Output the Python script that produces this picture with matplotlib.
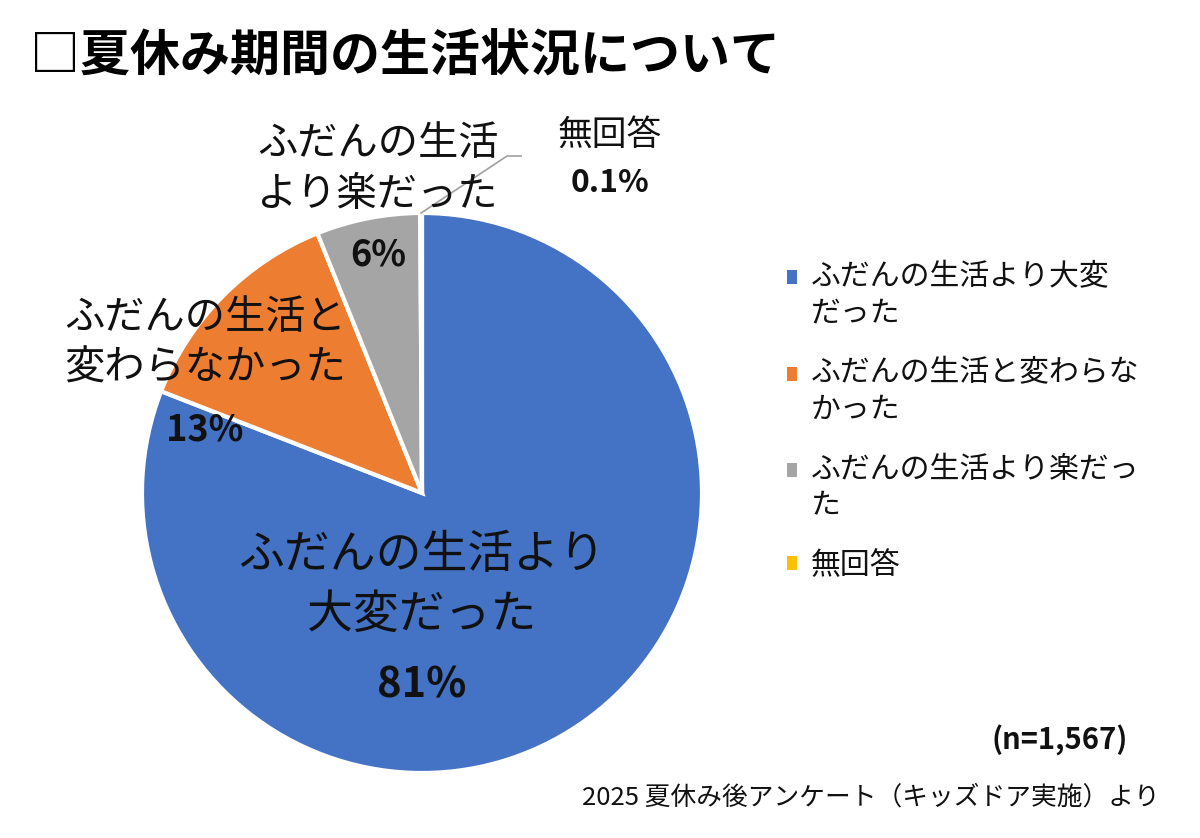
import numpy as np
import matplotlib
matplotlib.use("Agg")
import matplotlib.pyplot as plt
from matplotlib.patches import Rectangle
from matplotlib.legend_handler import HandlerPatch

plt.rcParams['font.family'] = ['Noto Sans CJK JP', 'DejaVu Sans']

# データ
categories = ["ふだんの生活より大変だった", "ふだんの生活と変わらなかった",
              "ふだんの生活より楽だった", "無回答"]
legend_labels = ["ふだんの生活より大変\nだった", "ふだんの生活と変わらな\nかった",
                 "ふだんの生活より楽だっ\nた", "無回答"]
values = [81, 13, 6, 0.1]
pct_labels = ["81%", "13%", "6%", "0.1%"]
colors = ["#4472C4", "#ED7D31", "#A5A5A5", "#FFC000"]

W, H = 1200, 838
fig = plt.figure(figsize=(W / 100, H / 100), dpi=100)
ax = fig.add_axes([0, 0, 1, 1])

cx, cy, r = 422, H - 493, 280
wedges, _ = ax.pie(values, colors=colors, startangle=90, counterclock=False,
                   center=(cx, cy), radius=r, frame=True,
                   wedgeprops=dict(edgecolor="white", linewidth=3))
ax.set_xlim(0, W)
ax.set_ylim(0, H)
ax.set_aspect("equal")
ax.axis("off")

txt = "#111111"
# ラベル
ax.text(cx, H - 585, "ふだんの生活より\n大変だった", ha="center", va="center",
        fontsize=33, color=txt, linespacing=1.3)
ax.text(cx, H - 685, pct_labels[0], ha="center", va="center", fontsize=30,
        fontweight="bold", color=txt)

ax.text(205, H - 343, "ふだんの生活と\n変わらなかった", ha="center", va="center",
        fontsize=29, color=txt, linespacing=1.3)
ax.text(205, H - 430, pct_labels[1], ha="center", va="center", fontsize=26,
        fontweight="bold", color=txt)

ax.text(378, H - 169, "ふだんの生活\nより楽だった", ha="center", va="center",
        fontsize=29, color=txt, linespacing=1.3)
ax.text(378, H - 255, pct_labels[2], ha="center", va="center", fontsize=26,
        fontweight="bold", color=txt)

ax.text(610, H - 135, "無回答", ha="center", va="center", fontsize=25, color=txt)
ax.text(610, H - 183, pct_labels[3], ha="center", va="center", fontsize=23,
        fontweight="bold", color=txt)

# 無回答の引き出し線
w = wedges[3]
th = np.deg2rad((w.theta1 + w.theta2) / 2)
ax.plot([cx + r * np.cos(th), 507, 521], [cy + r * np.sin(th), H - 156, H - 156],
        color="#A0A0A0", lw=1.2)


# 凡例の四角を1行目にそろえる
def square(legend, orig_handle, xdescent, ydescent, width, height, fontsize):
    dy = 13.5 if "\n" in legend_labels[list(wedges).index(orig_handle)] else 0
    return Rectangle((-xdescent, -ydescent + dy), width, height)


leg = ax.legend(wedges, legend_labels, loc="upper left",
                bbox_to_anchor=(760 / W, 1 - 234 / H), frameon=False,
                fontsize=21.5, handlelength=0.35, handleheight=0.35,
                handletextpad=0.45, labelspacing=0.95,
                handler_map={w: HandlerPatch(patch_func=square) for w in wedges})
for t in leg.get_texts():
    t.set_color(txt)
    t.set_linespacing(1.25)
for h in leg.legend_handles:
    h.set_edgecolor("none")

fig.text(30 / W, 1 - 57 / H, "□夏休み期間の生活状況について", ha="left", va="center",
         fontsize=36, fontweight="bold", color="#000000")
fig.text(1128 / W, 1 - 740 / H, "(n=1,567)", ha="right", va="center",
         fontsize=21, fontweight="bold", color=txt)
fig.text(1160 / W, 1 - 798 / H, "2025 夏休み後アンケート（キッズドア実施）より",
         ha="right", va="center", fontsize=18.5, color=txt)

fig.savefig("out.png", dpi=100, facecolor="white")
